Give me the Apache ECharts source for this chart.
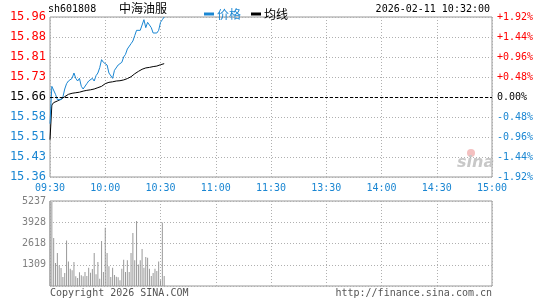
<!DOCTYPE html>
<html>
<head>
<meta charset="utf-8">
<script src="https://cdn.jsdelivr.net/npm/echarts@6/dist/echarts.min.js"></script>
<style>
  html, body { margin: 0; padding: 0; background: #fff; }
  #chart-container { width: 545px; height: 300px; }
</style>
</head>
<body>
<div id="chart-container"></div>
<script>
var dom = document.getElementById("chart-container");
var myChart = echarts.init(dom, null, { renderer: "canvas" });

// minutes since 09:30, one point per minute up to 10:32
const prices = [
  15.56, 15.70, 15.70, 15.67, 15.65, 15.65, 15.65, 15.66, 15.69, 15.71,
  15.72, 15.72, 15.73, 15.75, 15.73, 15.72, 15.73, 15.70, 15.69, 15.69,
  15.71, 15.72, 15.72, 15.73, 15.72, 15.74, 15.75, 15.77, 15.80, 15.79,
  15.79, 15.78, 15.75, 15.75, 15.73, 15.76, 15.76, 15.78, 15.78, 15.79,
  15.81, 15.82, 15.84, 15.84, 15.86, 15.87, 15.89, 15.91, 15.91, 15.91,
  15.93, 15.95, 15.92, 15.94, 15.93, 15.92, 15.90, 15.90, 15.90, 15.91,
  15.94, 15.95, 15.96
];
const avgPrices = [
  15.500, 15.630, 15.639, 15.642, 15.645, 15.649, 15.652, 15.656, 15.661, 15.665,
  15.670, 15.672, 15.674, 15.675, 15.676, 15.677, 15.678, 15.680, 15.682, 15.684,
  15.685, 15.686, 15.687, 15.689, 15.690, 15.692, 15.695, 15.697, 15.700, 15.706,
  15.710, 15.714, 15.715, 15.716, 15.717, 15.719, 15.720, 15.720, 15.721, 15.722,
  15.724, 15.726, 15.729, 15.732, 15.736, 15.742, 15.747, 15.752, 15.756, 15.760,
  15.764, 15.767, 15.769, 15.770, 15.771, 15.772, 15.774, 15.774, 15.776, 15.779,
  15.781, 15.784, 15.785
];
const volumes = [
  5237, 5180, 2950, 1415, 2030, 1270, 1110, 555, 800, 2810,
  1515, 1065, 965, 1475, 595, 490, 840, 655, 595, 860,
  615, 1130, 820, 1045, 2030, 720, 1475, 450, 2770, 860,
  3590, 2030, 1210, 555, 1130, 675, 575, 535, 350, 1065,
  1620, 860, 1580, 860, 2030, 3260, 1580, 4000, 1330, 1580,
  2275, 1130, 1785, 1740, 1065, 615, 800, 1065, 920, 1515,
  350, 3915, 615
];

const prevClose = 15.66;
const timeLabels = ["09:30", "10:00", "10:30", "11:00", "11:30", "13:30", "14:00", "14:30", "15:00"];
const priceTicks = ["15.36", "15.43", "15.51", "15.58", "15.66", "15.73", "15.81", "15.88", "15.96"];
const pctTicks = ["-1.92%", "-1.44%", "-0.96%", "-0.48%", "0.00%", "+0.48%", "+0.96%", "+1.44%", "+1.92%"];
const volTicks = ["", "1309", "2618", "3928", "5237"];

const RED = "#ff0000";
const BLUE = "#1a86d2";
const MONO = "DejaVu Sans Mono";

const signColor = (value, index) => (index > 4 ? RED : index < 4 ? BLUE : "#000");
const dotted = { show: true, lineStyle: { color: "#b0b0b0", type: [1, 2], width: 1 } };

var option = {
  animation: false,
  backgroundColor: "#fff",
  legend: {
    left: 199,
    top: 3,
    itemWidth: 10,
    itemHeight: 3,
    itemGap: 10,
    icon: "rect",
    textStyle: { fontFamily: "Noto Sans CJK SC", fontSize: 12, padding: [0, 0, 0, -2] },
    data: [
      { name: "价格", textStyle: { color: BLUE } },
      { name: "均线", textStyle: { color: "#000" } }
    ]
  },
  graphic: [
    { type: "text", left: 48, top: 4, style: { text: "sh601808", font: "10px " + MONO, fill: "#000" } },
    { type: "text", left: 119, top: 2, style: { text: "中海油服", font: "12px 'Noto Sans CJK SC'", fill: "#000" } },
    { type: "text", right: 55, top: 4, style: { text: "2026-02-11 10:32:00", font: "10px " + MONO, fill: "#000" } },
    { type: "text", left: 50, top: 288, style: { text: "Copyright 2026 SINA.COM", font: "10px " + MONO, fill: "#555" } },
    { type: "text", right: 53, top: 288, style: { text: "http://finance.sina.com.cn", font: "10px " + MONO, fill: "#555" } },
    { type: "circle", shape: { cx: 471, cy: 153, r: 4 }, style: { fill: "#f4c0c0" }, z: 0 },
    { type: "text", left: 457, top: 155, z: 0, style: { text: "sina", font: "italic bold 16px 'DejaVu Sans'", fill: "#c8c8c8" } }
  ],
  grid: [
    { left: 50, top: 17, width: 442, height: 160, show: true, borderColor: "#999", borderWidth: 1 },
    { left: 50, top: 201, width: 442, height: 85, show: true, borderColor: "#999", borderWidth: 1 }
  ],
  xAxis: [
    {
      type: "value", gridIndex: 0, min: 0, max: 240, interval: 30,
      axisLine: { show: false }, axisTick: { show: false },
      splitLine: dotted,
      axisLabel: {
        margin: 6, color: BLUE, fontFamily: MONO, fontSize: 10,
        formatter: (v, i) => timeLabels[i]
      }
    },
    {
      type: "value", gridIndex: 1, min: 0, max: 240, interval: 30,
      axisLine: { show: false }, axisTick: { show: false },
      splitLine: dotted, axisLabel: { show: false }
    }
  ],
  yAxis: [
    {
      type: "value", gridIndex: 0, min: 15.36, max: 15.96, interval: 0.075,
      axisLine: { show: false }, axisTick: { show: false },
      splitLine: dotted,
      axisLabel: {
        margin: 4, fontFamily: MONO, fontSize: 12, color: signColor,
        formatter: (v, i) => priceTicks[i]
      }
    },
    {
      type: "value", gridIndex: 0, position: "right", min: -1.92, max: 1.92, interval: 0.48,
      axisLine: { show: false }, axisTick: { show: false }, splitLine: { show: false },
      axisLabel: {
        margin: 5, fontFamily: MONO, fontSize: 10, color: signColor,
        formatter: (v, i) => pctTicks[i]
      }
    },
    {
      type: "value", gridIndex: 1, min: 0, max: 5237, interval: 1309.25,
      axisLine: { show: false }, axisTick: { show: false },
      splitLine: dotted,
      axisLabel: {
        margin: 4, fontFamily: MONO, fontSize: 10, color: "#808080",
        formatter: (v, i) => volTicks[i]
      }
    }
  ],
  series: [
    {
      name: "价格", type: "line", xAxisIndex: 0, yAxisIndex: 0,
      showSymbol: false, color: BLUE, lineStyle: { width: 1, color: BLUE },
      data: prices.map((p, i) => [i, p]),
      z: 4,
      markLine: {
        silent: true, symbol: "none", label: { show: false },
        lineStyle: { color: "#000", type: [3, 2], width: 1 },
        data: [{ yAxis: prevClose }]
      }
    },
    {
      name: "均线", type: "line", xAxisIndex: 0, yAxisIndex: 0,
      showSymbol: false, color: "#000", lineStyle: { width: 1, color: "#000" },
      data: avgPrices.map((p, i) => [i, p]),
      z: 3
    },
    {
      name: "成交量", type: "bar", xAxisIndex: 1, yAxisIndex: 2,
      barWidth: 1, itemStyle: { color: "#999" },
      data: volumes.map((v, i) => [i, v])
    }
  ]
};

myChart.setOption(option);
window.addEventListener("resize", myChart.resize);
</script>
</body>
</html>
